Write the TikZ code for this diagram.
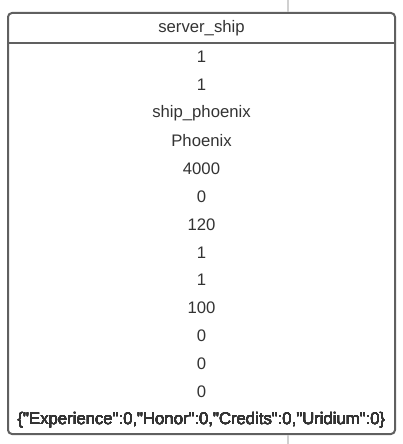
\documentclass[tikz,border=0pt]{standalone}
\usepackage{fontspec}
\setmainfont{Liberation Sans}[Ligatures=TeXOff]
\definecolor{trait}{HTML}{606060}
\definecolor{texte}{HTML}{333333}
\definecolor{lien}{HTML}{D0D0D0}
\newcommand{\Lig}[3]{\node[text=texte] (#1) at (201.5,{#2}) {#3};}

\begin{document}
\begin{tikzpicture}[x=1pt,y=-1pt,font=\fontsize{16.7}{18}\selectfont]
        \useasboundingbox (0,0) rectangle (402,444);
        \node[draw=trait,line width=2pt,rounded corners=4pt,minimum width=387pt,minimum height=421pt,inner sep=0pt] (Tabl) at (201.5,223.5) {};
        \draw[trait,line width=2pt] (Tabl.west |- 0,43) -- (Tabl.east |- 0,43);
        \Lig{Titr}{28}{server\_ship}
        \foreach \t [count=\i] in {1,1,ship\_phoenix,Phoenix,4000,0,120,1,1,100,0,0,0}
          \Lig{Lig\i}{57+27.9*(\i-1)}{\t}
        \Lig{Dict}{419.7}{\{"Experience":0,"Honor":0,"Credits":0,"Uridium":0\}}
        \coordinate (Haut) at (288,0);
        \coordinate (Bas) at (288,444);
        \draw[lien,line width=2pt] (Haut) -- (Haut |- Tabl.north);
        \draw[lien,line width=2pt] (Bas) -- (Bas |- Tabl.south);
      \end{tikzpicture}
\end{document}
